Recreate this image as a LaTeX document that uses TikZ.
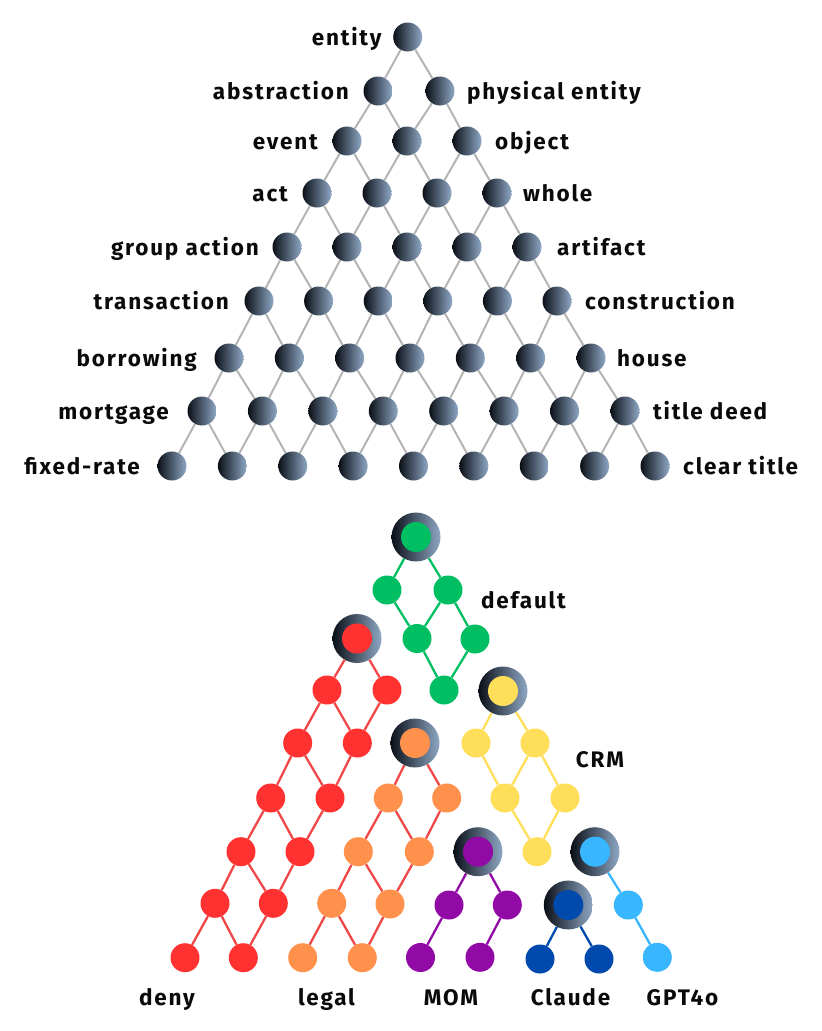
\documentclass[tikz,border=0pt]{standalone}
\usepackage{fontspec}
\newfontfamily\lblfamily{Fira Sans}[LetterSpace=8]
\usetikzlibrary{backgrounds}
\definecolor{cgreen}{HTML}{00BF63}
\definecolor{cred}{HTML}{FF3131}
\definecolor{credline}{HTML}{F04848}
\definecolor{corange}{HTML}{FF914D}
\definecolor{cyellow}{HTML}{FFDE59}
\definecolor{cpurple}{HTML}{920AA5}
\definecolor{cdblue}{HTML}{004AAD}
\definecolor{clblue}{HTML}{38B6FF}
\definecolor{gdark}{HTML}{0A0F17}
\definecolor{glight}{HTML}{8FA8C5}
\definecolor{tedgec}{HTML}{B4B4B4}
\definecolor{txt}{HTML}{0A0A0A}
\tikzset{
  tnode/.style={circle, minimum size=29pt, inner sep=0pt, left color=gdark, right color=glight},
  ringnode/.style={circle, minimum size=49pt, inner sep=0pt, left color=gdark, right color=glight,
    path picture={\fill[#1] (path picture bounding box.center) circle (15pt);}},
  dotnode/.style={circle, minimum size=29pt, inner sep=0pt, fill=#1},
  tedge/.style={draw=tedgec, line width=2pt},
  cedge/.style={draw=#1, line width=2.3pt},
  lbl/.style={font=\lblfamily\bfseries\fontsize{22.5}{26}\selectfont, text=txt, inner sep=0pt, yshift=-6.5pt},
}
\def\ty{{37,91,141,193,247,301,358,411,466}}
\def\txl{{407.7,378,347,317,287,259,229,202,172}}
\def\txr{{407.7,440,467,497,527,557,591,625,655}}
\begin{document}
\begin{tikzpicture}[x=1pt,y=-1pt]
\useasboundingbox (0,0) rectangle (822,1031);
% ---------- top lattice ----------
\foreach \i in {0,...,8} {
  \foreach \j in {0,...,\i} {
    \pgfmathsetmacro\xa{\txl[\i]}
    \pgfmathsetmacro\xb{\txr[\i]}
    \pgfmathsetmacro\yy{\ty[\i]}
    \pgfmathsetmacro\xx{\xa+(\xb-\xa)*\j/max(\i,1)}
    \node[tnode] (t\i-\j) at (\xx,\yy) {};
  }
}
\begin{pgfonlayer}{background}
\foreach \i in {0,...,7} {
  \foreach \j in {0,...,\i} {
    \pgfmathtruncatemacro\ii{\i+1}
    \pgfmathtruncatemacro\jj{\j+1}
    \draw[tedge] (t\i-\j) -- (t\ii-\j);
    \draw[tedge] (t\i-\j) -- (t\ii-\jj);
  }
}
\end{pgfonlayer}
% labels top
\node[lbl, anchor=mid east] (l00) at ([xshift=-26pt]t0-0.center) {entity};
\node[lbl, anchor=mid east] (l10) at ([xshift=-29pt]t1-0.center) {abstraction};
\node[lbl, anchor=mid west] (l11) at ([xshift=27pt]t1-1.center) {physical entity};
\node[lbl, anchor=mid east] (l20) at ([xshift=-29pt]t2-0.center) {event};
\node[lbl, anchor=mid west] (l22) at ([xshift=28pt]t2-2.center) {object};
\node[lbl, anchor=mid east] (l30) at ([xshift=-29pt]t3-0.center) {act};
\node[lbl, anchor=mid west] (l33) at ([xshift=26pt]t3-3.center) {whole};
\node[lbl, anchor=mid east] (l40) at ([xshift=-28pt]t4-0.center) {group action};
\node[lbl, anchor=mid west] (l44) at ([xshift=30pt]t4-4.center) {artifact};
\node[lbl, anchor=mid east] (l50) at ([xshift=-30pt]t5-0.center) {transaction};
\node[lbl, anchor=mid west] (l55) at ([xshift=28pt]t5-5.center) {construction};
\node[lbl, anchor=mid east] (l60) at ([xshift=-32pt]t6-0.center) {borrowing};
\node[lbl, anchor=mid west] (l66) at ([xshift=26pt]t6-6.center) {house};
\node[lbl, anchor=mid east] (l70) at ([xshift=-33pt]t7-0.center) {mortgage};
\node[lbl, anchor=mid west] (l77) at ([xshift=28pt]t7-7.center) {title deed};
\node[lbl, anchor=mid east] (l80) at ([xshift=-32pt]t8-0.center) {fixed-rate};
\node[lbl, anchor=mid west] (l88) at ([xshift=28pt]t8-8.center) {clear title};
% ---------- bottom lattice ----------
\node[ringnode=cgreen] (b00) at (416,537) {};
\node[dotnode=cgreen] (b10) at (387,590) {};
\node[dotnode=cgreen] (b11) at (448,590) {};
\node[ringnode=cred] (b20) at (357,638.5) {};
\node[dotnode=cgreen] (b21) at (417,638.5) {};
\node[dotnode=cgreen] (b22) at (475,639) {};
\node[dotnode=cred] (b30) at (327,690) {};
\node[dotnode=cred] (b31) at (387,690) {};
\node[dotnode=cgreen] (b32) at (444,690) {};
\node[ringnode=cyellow] (b33) at (503,691) {};
\node[dotnode=cred] (b40) at (297.7,743) {};
\node[dotnode=cred] (b41) at (357.3,743) {};
\node[ringnode=corange] (b42) at (415,743) {};
\node[dotnode=cyellow] (b43) at (476,743) {};
\node[dotnode=cyellow] (b44) at (535,743) {};
\node[dotnode=cred] (b50) at (270.7,798) {};
\node[dotnode=cred] (b51) at (330,798) {};
\node[dotnode=corange] (b52) at (388.3,798) {};
\node[dotnode=corange] (b53) at (446.7,798) {};
\node[dotnode=cyellow] (b54) at (505,798) {};
\node[dotnode=cyellow] (b55) at (565,798) {};
\node[dotnode=cred] (b60) at (241,851.7) {};
\node[dotnode=cred] (b61) at (300,851.7) {};
\node[dotnode=corange] (b62) at (358.3,851.7) {};
\node[dotnode=corange] (b63) at (419.3,851.7) {};
\node[ringnode=cpurple] (b64) at (478,851.7) {};
\node[dotnode=cyellow] (b65) at (537,851.7) {};
\node[ringnode=clblue] (b66) at (595,851.7) {};
\node[dotnode=cred] (b70) at (215,903.3) {};
\node[dotnode=cred] (b71) at (273.3,903.3) {};
\node[dotnode=corange] (b72) at (331.7,903.3) {};
\node[dotnode=corange] (b73) at (390,904) {};
\node[dotnode=cpurple] (b74) at (449,905) {};
\node[dotnode=cpurple] (b75) at (507.3,905) {};
\node[ringnode=cdblue] (b76) at (568.3,905) {};
\node[dotnode=clblue] (b77) at (628.3,905) {};
\node[dotnode=cred] (b80) at (185,957.7) {};
\node[dotnode=cred] (b81) at (243.3,957.7) {};
\node[dotnode=corange] (b82) at (302.7,957.7) {};
\node[dotnode=corange] (b83) at (362.3,957.7) {};
\node[dotnode=cpurple] (b84) at (420.5,957.5) {};
\node[dotnode=cpurple] (b85) at (480,957.3) {};
\node[dotnode=cdblue] (b86) at (540,959) {};
\node[dotnode=cdblue] (b87) at (599,959) {};
\node[dotnode=clblue] (b88) at (657.3,957.3) {};
\begin{pgfonlayer}{background}
\foreach \a/\b in {b00/b10,b00/b11,b10/b21,b11/b21,b11/b22,b21/b32,b22/b32}
  \draw[cedge=cgreen] (\a) -- (\b);
\foreach \a/\b in {b20/b30,b20/b31,b30/b40,b30/b41,b31/b41,b40/b50,b40/b51,b41/b51,
  b50/b60,b50/b61,b51/b61,b60/b70,b60/b71,b61/b71,b70/b80,b70/b81,b71/b81,
  b42/b52,b42/b53,b52/b62,b52/b63,b53/b63,b62/b72,b62/b73,b63/b73,b72/b82,b72/b83,b73/b83}
  \draw[cedge=credline] (\a) -- (\b);
\foreach \a/\b in {b33/b43,b33/b44,b43/b54,b44/b54,b44/b55,b54/b65,b55/b65}
  \draw[cedge=cyellow] (\a) -- (\b);
\foreach \a/\b in {b64/b74,b64/b75,b74/b84,b75/b85}
  \draw[cedge=cpurple] (\a) -- (\b);
\foreach \a/\b in {b76/b86,b76/b87}
  \draw[cedge=cdblue] (\a) -- (\b);
\foreach \a/\b in {b66/b77,b77/b88}
  \draw[cedge=clblue] (\a) -- (\b);
\end{pgfonlayer}
% labels bottom
\node[lbl, anchor=mid] (ldefault) at (523.5,600) {default};
\node[lbl, anchor=mid] (lcrm) at (600,759) {CRM};
\node[lbl, anchor=mid] (ldeny) at (167,997) {deny};
\node[lbl, anchor=mid] (llegal) at (326.5,997) {legal};
\node[lbl, anchor=mid] (lmom) at (451,997) {MOM};
\node[lbl, anchor=mid] (lclaude) at (570.5,997) {Claude};
\node[lbl, anchor=mid] (lgpt) at (682.5,997) {GPT4o};
\end{tikzpicture}
\end{document}
